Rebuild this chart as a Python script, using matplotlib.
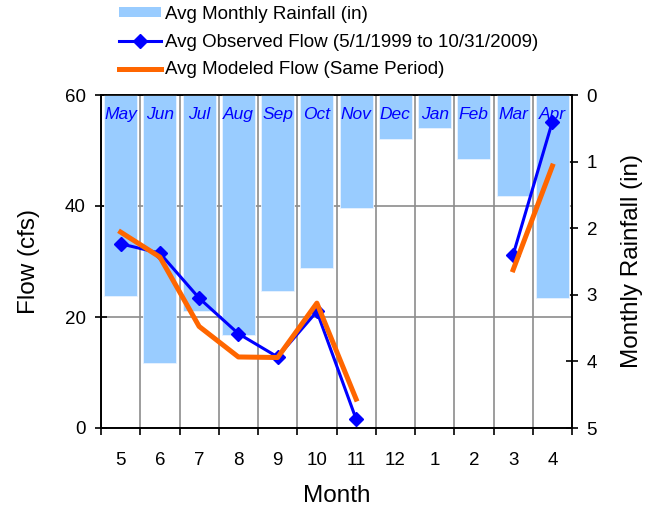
import matplotlib
matplotlib.use("Agg")
import matplotlib.pyplot as plt
import numpy as np
from matplotlib.patches import Patch
from matplotlib.lines import Line2D

plt.rcParams['font.family'] = ['Liberation Sans', 'DejaVu Sans']

months_num = ['5', '6', '7', '8', '9', '10', '11', '12', '1', '2', '3', '4']
months_name = ['May', 'Jun', 'Jul', 'Aug', 'Sep', 'Oct', 'Nov', 'Dec', 'Jan', 'Feb', 'Mar', 'Apr']
rainfall = [3.02, 4.03, 3.24, 3.60, 2.95, 2.60, 1.70, 0.66, 0.50, 0.96, 1.51, 3.05]
observed = [33.2, 31.5, 23.4, 17.0, 12.8, 21.0, 1.6, np.nan, np.nan, np.nan, 31.2, 55.2]
modeled = [35.3, 30.8, 18.3, 12.8, 12.7, 22.5, 5.2, np.nan, np.nan, np.nan, 28.5, 47.2]

x = np.arange(len(months_num))

fig = plt.figure(figsize=(6.54, 5.12), dpi=100)
ax = fig.add_axes([101/654, 1 - 428/512, (572-101)/654, (428-95)/512])
ax2 = ax.twinx()
ax3 = ax.twinx()

TICK_FS = 13.5
LABEL_FS = 17.5

# grid on base axes
ax.set_xlim(-0.5, 11.5)
ax.set_ylim(0, 60)
ax.set_yticks([0, 20, 40, 60])
ax.set_xticks(np.arange(-0.5, 12.0, 1.0))
ax.set_xticklabels([])
ax.set_xticks(x, minor=True)
ax.set_xticklabels(months_num, minor=True)
ax.tick_params(axis='x', which='major', direction='out', length=5, width=1.2, color='black')
ax.tick_params(axis='x', which='minor', length=0, pad=17, labelsize=TICK_FS)
ax.tick_params(axis='y', direction='inout', length=8, width=1.2, labelsize=TICK_FS, pad=7)
ax.grid(True, which='major', color='#8c8c8c', linewidth=1.2)
ax.set_axisbelow(True)
ax.set_ylabel('Flow (cfs)', fontsize=LABEL_FS, labelpad=18)
ax.set_xlabel('Month', fontsize=LABEL_FS, labelpad=12)
for s in ax.spines.values():
    s.set_linewidth(1.2)

# bars on right axis (inverted)
ax2.bar(x, rainfall, width=0.84, color='#99ccff', edgecolor='#e8f3ff', linewidth=0.6, zorder=2)
ax2.set_ylim(5, 0)
ax2.set_yticks([0, 1, 2, 3, 4, 5])
ax2.tick_params(axis='y', direction='inout', length=9, width=1.2, labelsize=TICK_FS, pad=6)
ax2.set_ylabel('Monthly Rainfall (in)', fontsize=LABEL_FS, labelpad=17)
for s in ax2.spines.values():
    s.set_linewidth(1.2)
for xi, name in zip(x, months_name):
    ax2.text(xi, 0.30, name, ha='center', va='center', color='#0000ff',
             fontstyle='italic', fontsize=12.5, zorder=3)

# lines on top
ax3.set_ylim(0, 60)
ax3.set_xlim(-0.5, 11.5)
ax3.plot(x, observed, color='#0000ff', linewidth=2.2, marker='D', markersize=7, zorder=4)
ax3.plot(x, modeled, color='#ff6600', linewidth=3.6, zorder=5)
ax3.set_yticks([])
for s in ax3.spines.values():
    s.set_visible(False)

handles = [
    Patch(facecolor='#99ccff', edgecolor='none'),
    Line2D([], [], color='#0000ff', linewidth=2.2, marker='D', markersize=7),
    Line2D([], [], color='#ff6600', linewidth=3.6),
]
labels = ['Avg Monthly Rainfall (in)',
          'Avg Observed Flow (5/1/1999 to 10/31/2009)',
          'Avg Modeled Flow (Same Period)']
fig.legend(handles, labels, loc='upper left', bbox_to_anchor=(115/654, 1 - 2/512),
           frameon=False, fontsize=13.5, handlelength=2.24, handletextpad=0.21,
           handleheight=0.5, labelspacing=0.58, borderaxespad=0.0, borderpad=0.2)

fig.savefig('out.png', dpi=100)
